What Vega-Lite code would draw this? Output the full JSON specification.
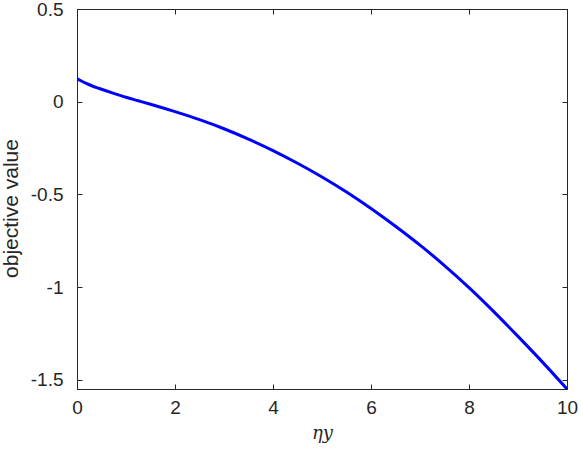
{
  "$schema": "https://vega.github.io/schema/vega-lite/v6.json",
  "autosize": {"type": "none"},
  "padding": {"left": 77, "top": 9, "right": 14, "bottom": 61},
  "width": 490,
  "height": 380,
  "background": "white",
  "config": {
    "view": {"stroke": "#262626", "strokeWidth": 1},
    "axis": {
      "grid": false,
      "domainColor": "#262626",
      "tickColor": "#262626",
      "labelColor": "#262626",
      "titleColor": "#262626",
      "labelFont": "Liberation Sans",
      "titleFont": "Liberation Sans",
      "labelFontSize": 19,
      "titleFontSize": 21,
      "titleFontWeight": "normal",
      "labelFlush": false,
      "labelOverlap": false,
      "tickSize": -5
    }
  },
  "data": {
    "values": [
      {"eta": 0, "obj": 0.125},
      {"eta": 0.1, "obj": 0.110},
      {"eta": 0.2, "obj": 0.097},
      {"eta": 0.3, "obj": 0.086},
      {"eta": 0.4, "obj": 0.076},
      {"eta": 0.5, "obj": 0.067},
      {"eta": 0.75, "obj": 0.045},
      {"eta": 1.0, "obj": 0.024},
      {"eta": 1.25, "obj": 0.005},
      {"eta": 1.5, "obj": -0.014},
      {"eta": 2.0, "obj": -0.054},
      {"eta": 2.5, "obj": -0.097},
      {"eta": 3.0, "obj": -0.146},
      {"eta": 3.5, "obj": -0.202},
      {"eta": 4.0, "obj": -0.264},
      {"eta": 4.5, "obj": -0.332},
      {"eta": 5.0, "obj": -0.406},
      {"eta": 5.5, "obj": -0.487},
      {"eta": 6.0, "obj": -0.576},
      {"eta": 6.5, "obj": -0.672},
      {"eta": 7.0, "obj": -0.774},
      {"eta": 7.5, "obj": -0.884},
      {"eta": 8.0, "obj": -1.003},
      {"eta": 8.5, "obj": -1.131},
      {"eta": 9.0, "obj": -1.266},
      {"eta": 9.5, "obj": -1.405},
      {"eta": 10.0, "obj": -1.550}
    ]
  },
  "layer": [
    {
      "mark": {"type": "line", "color": "#0000FF", "strokeWidth": 3, "interpolate": "monotone", "clip": true},
      "encoding": {
        "x": {
          "field": "eta", "type": "quantitative",
          "scale": {"domain": [0, 10], "nice": false, "zero": false},
          "axis": {"values": [0, 2, 4, 6, 8, 10], "title": "ηy", "titleFont": "DejaVu Serif", "titleFontStyle": "italic", "titleFontSize": 18, "labelPadding": 14, "titlePadding": 7}
        },
        "y": {
          "field": "obj", "type": "quantitative",
          "scale": {"domain": [-1.55, 0.5], "nice": false, "zero": false},
          "axis": {"values": [-1.5, -1, -0.5, 0, 0.5], "title": "objective value", "labelPadding": 19, "titlePadding": 9, "titleY": 199, "labelExpr": "datum.value == 0 ? '0' : datum.value == -1 ? '-1' : replace(format(datum.value, '.1f'), '−', '-')"}
        }
      }
    },
    {
      "mark": {"type": "line", "opacity": 0},
      "encoding": {
        "x": {
          "field": "eta", "type": "quantitative",
          "axis": {"orient": "top", "values": [0, 2, 4, 6, 8, 10], "labels": false, "title": null}
        },
        "y": {
          "field": "obj", "type": "quantitative",
          "axis": {"orient": "right", "values": [-1.5, -1, -0.5, 0, 0.5], "labels": false, "title": null}
        }
      }
    }
  ],
  "resolve": {"axis": {"x": "independent", "y": "independent"}}
}
